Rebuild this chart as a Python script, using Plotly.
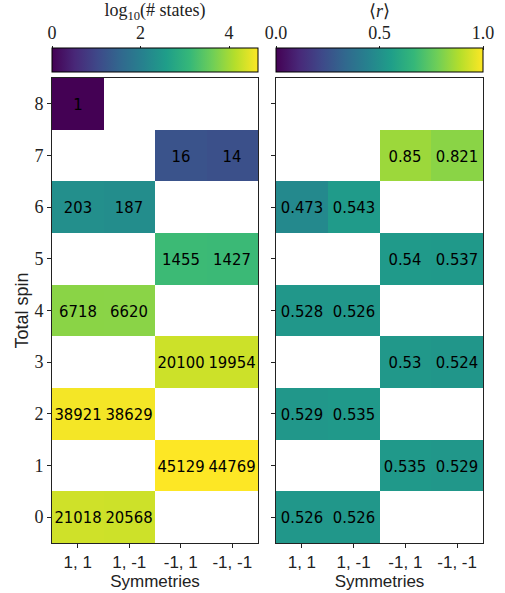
import math
import plotly.graph_objects as go

W, H = 505, 593

symmetries = ["1, 1", "1, -1", "-1, 1", "-1, -1"]
total_spin = [0, 1, 2, 3, 4, 5, 6, 7, 8]

# rows indexed by total spin 0..8, columns by symmetry sector
n_states = [
    [21018, 20568, None, None],
    [None, None, 45129, 44769],
    [38921, 38629, None, None],
    [None, None, 20100, 19954],
    [6718, 6620, None, None],
    [None, None, 1455, 1427],
    [203, 187, None, None],
    [None, None, 16, 14],
    [1, None, None, None],
]
r_mean = [
    [0.526, 0.526, None, None],
    [None, None, 0.535, 0.529],
    [0.529, 0.535, None, None],
    [None, None, 0.53, 0.524],
    [0.528, 0.526, None, None],
    [None, None, 0.54, 0.537],
    [0.473, 0.543, None, None],
    [None, None, 0.85, 0.821],
    [None, None, None, None],
]
r_text = [
    ["0.526", "0.526", "", ""],
    ["", "", "0.535", "0.529"],
    ["0.529", "0.535", "", ""],
    ["", "", "0.53", "0.524"],
    ["0.528", "0.526", "", ""],
    ["", "", "0.54", "0.537"],
    ["0.473", "0.543", "", ""],
    ["", "", "0.85", "0.821"],
    ["", "", "", ""],
]

log_states = [[math.log10(v) if v is not None else None for v in row] for row in n_states]
n_text = [[str(v) if v is not None else "" for v in row] for row in n_states]
zmax_left = max(v for row in log_states for v in row if v is not None)

def px(x):
    return x / W

def py(y):
    return 1 - y / H

L0, L1 = 52, 258
R0, R1 = 276, 483
PT, PB = 78, 543
CT, CB = 48, 72
TA = 51  # tick axis line for the colorbars

cell_font = dict(family="DejaVu Sans Condensed, Liberation Sans, sans-serif", size=16.5, color="black")
serif = "Liberation Serif, DejaVu Serif, serif"
sans = "Liberation Sans, DejaVu Sans, sans-serif"
ink = "#222"

fig = go.Figure()
# empty traces so that the colorbar tick axes are drawn (below the colorbars)
fig.add_trace(go.Scatter(x=[None], y=[None], xaxis="x3", yaxis="y3", showlegend=False, hoverinfo="skip"))
fig.add_trace(go.Scatter(x=[None], y=[None], xaxis="x4", yaxis="y4", showlegend=False, hoverinfo="skip"))
fig.add_trace(go.Heatmap(
    z=log_states, x=symmetries, y=total_spin, text=n_text, texttemplate="%{text}",
    textfont=cell_font, colorscale="Viridis", zmin=0, zmax=zmax_left,
    xaxis="x", yaxis="y", hoverongaps=False,
    colorbar=dict(orientation="h", x=px((L0 + L1) / 2), xanchor="center",
                  y=py(CT), yanchor="top", len=(L1 - L0) / W, lenmode="fraction",
                  thickness=CB - CT, thicknessmode="pixels", xpad=0, ypad=0,
                  outlinewidth=1, outlinecolor="black", showticklabels=False, ticks=""),
))
fig.add_trace(go.Heatmap(
    z=r_mean, x=symmetries, y=total_spin, text=r_text, texttemplate="%{text}",
    textfont=cell_font, colorscale="Viridis", zmin=0, zmax=1,
    xaxis="x2", yaxis="y2", hoverongaps=False,
    colorbar=dict(orientation="h", x=px((R0 + R1) / 2), xanchor="center",
                  y=py(CT), yanchor="top", len=(R1 - R0) / W, lenmode="fraction",
                  thickness=CB - CT, thicknessmode="pixels", xpad=0, ypad=0,
                  outlinewidth=1, outlinecolor="black", showticklabels=False, ticks=""),
))

frame = dict(showline=True, mirror=True, linecolor=ink, linewidth=1, showgrid=False,
             zeroline=False, ticks="outside", ticklen=4, tickcolor=ink, automargin=False)

fig.update_layout(
    width=W, height=H, margin=dict(l=0, r=0, t=0, b=0, autoexpand=False),
    paper_bgcolor="white", plot_bgcolor="white", showlegend=False,
    xaxis=dict(domain=[px(L0), px(L1)], anchor="y", **frame,
               tickfont=dict(family=sans, size=17, color=ink),
               title=dict(text="Symmetries", font=dict(family=sans, size=17, color=ink), standoff=0)),
    yaxis=dict(domain=[py(PB), py(PT)], anchor="x", **frame, range=[-0.5, 8.5],
               tickvals=total_spin, tickfont=dict(family=serif, size=18, color=ink),
               title=dict(text="Total spin", font=dict(family=sans, size=18, color=ink), standoff=1)),
    xaxis2=dict(domain=[px(R0), px(R1)], anchor="y2", **frame,
                tickfont=dict(family=sans, size=17, color=ink),
                title=dict(text="Symmetries", font=dict(family=sans, size=17, color=ink), standoff=0)),
    yaxis2=dict(domain=[py(PB), py(PT)], anchor="x2", **frame, range=[-0.5, 8.5],
                tickvals=total_spin, showticklabels=False),
    # tick axes for the colorbars (labels on top)
    xaxis3=dict(domain=[px(L0), px(L1)], anchor="y3", range=[0, zmax_left], side="top",
                tickvals=[0, 2, 4], ticks="outside", ticklen=4, tickcolor=ink,
                showgrid=False, zeroline=False, showline=False, fixedrange=True, automargin=False,
                tickfont=dict(family=serif, size=18, color=ink),
                title=dict(text="log<sub>10</sub>(# states)", font=dict(family=serif, size=18, color=ink), standoff=0)),
    yaxis3=dict(domain=[py(CB), py(TA)], anchor="x3", visible=False, range=[0, 1], automargin=False),
    xaxis4=dict(domain=[px(R0), px(R1)], anchor="y4", range=[0, 1], side="top",
                tickvals=[0, 0.5, 1], ticktext=["0.0", "0.5", "1.0"], ticks="outside",
                ticklen=4, tickcolor=ink, showgrid=False, zeroline=False, showline=False,
                fixedrange=True, automargin=False,
                tickfont=dict(family=serif, size=18, color=ink),
                title=dict(text="⟨<i>r</i>⟩", font=dict(family=serif, size=18, color=ink), standoff=0)),
    yaxis4=dict(domain=[py(CB), py(TA)], anchor="x4", visible=False, range=[0, 1], automargin=False),
)

fig.write_html("out.html")
